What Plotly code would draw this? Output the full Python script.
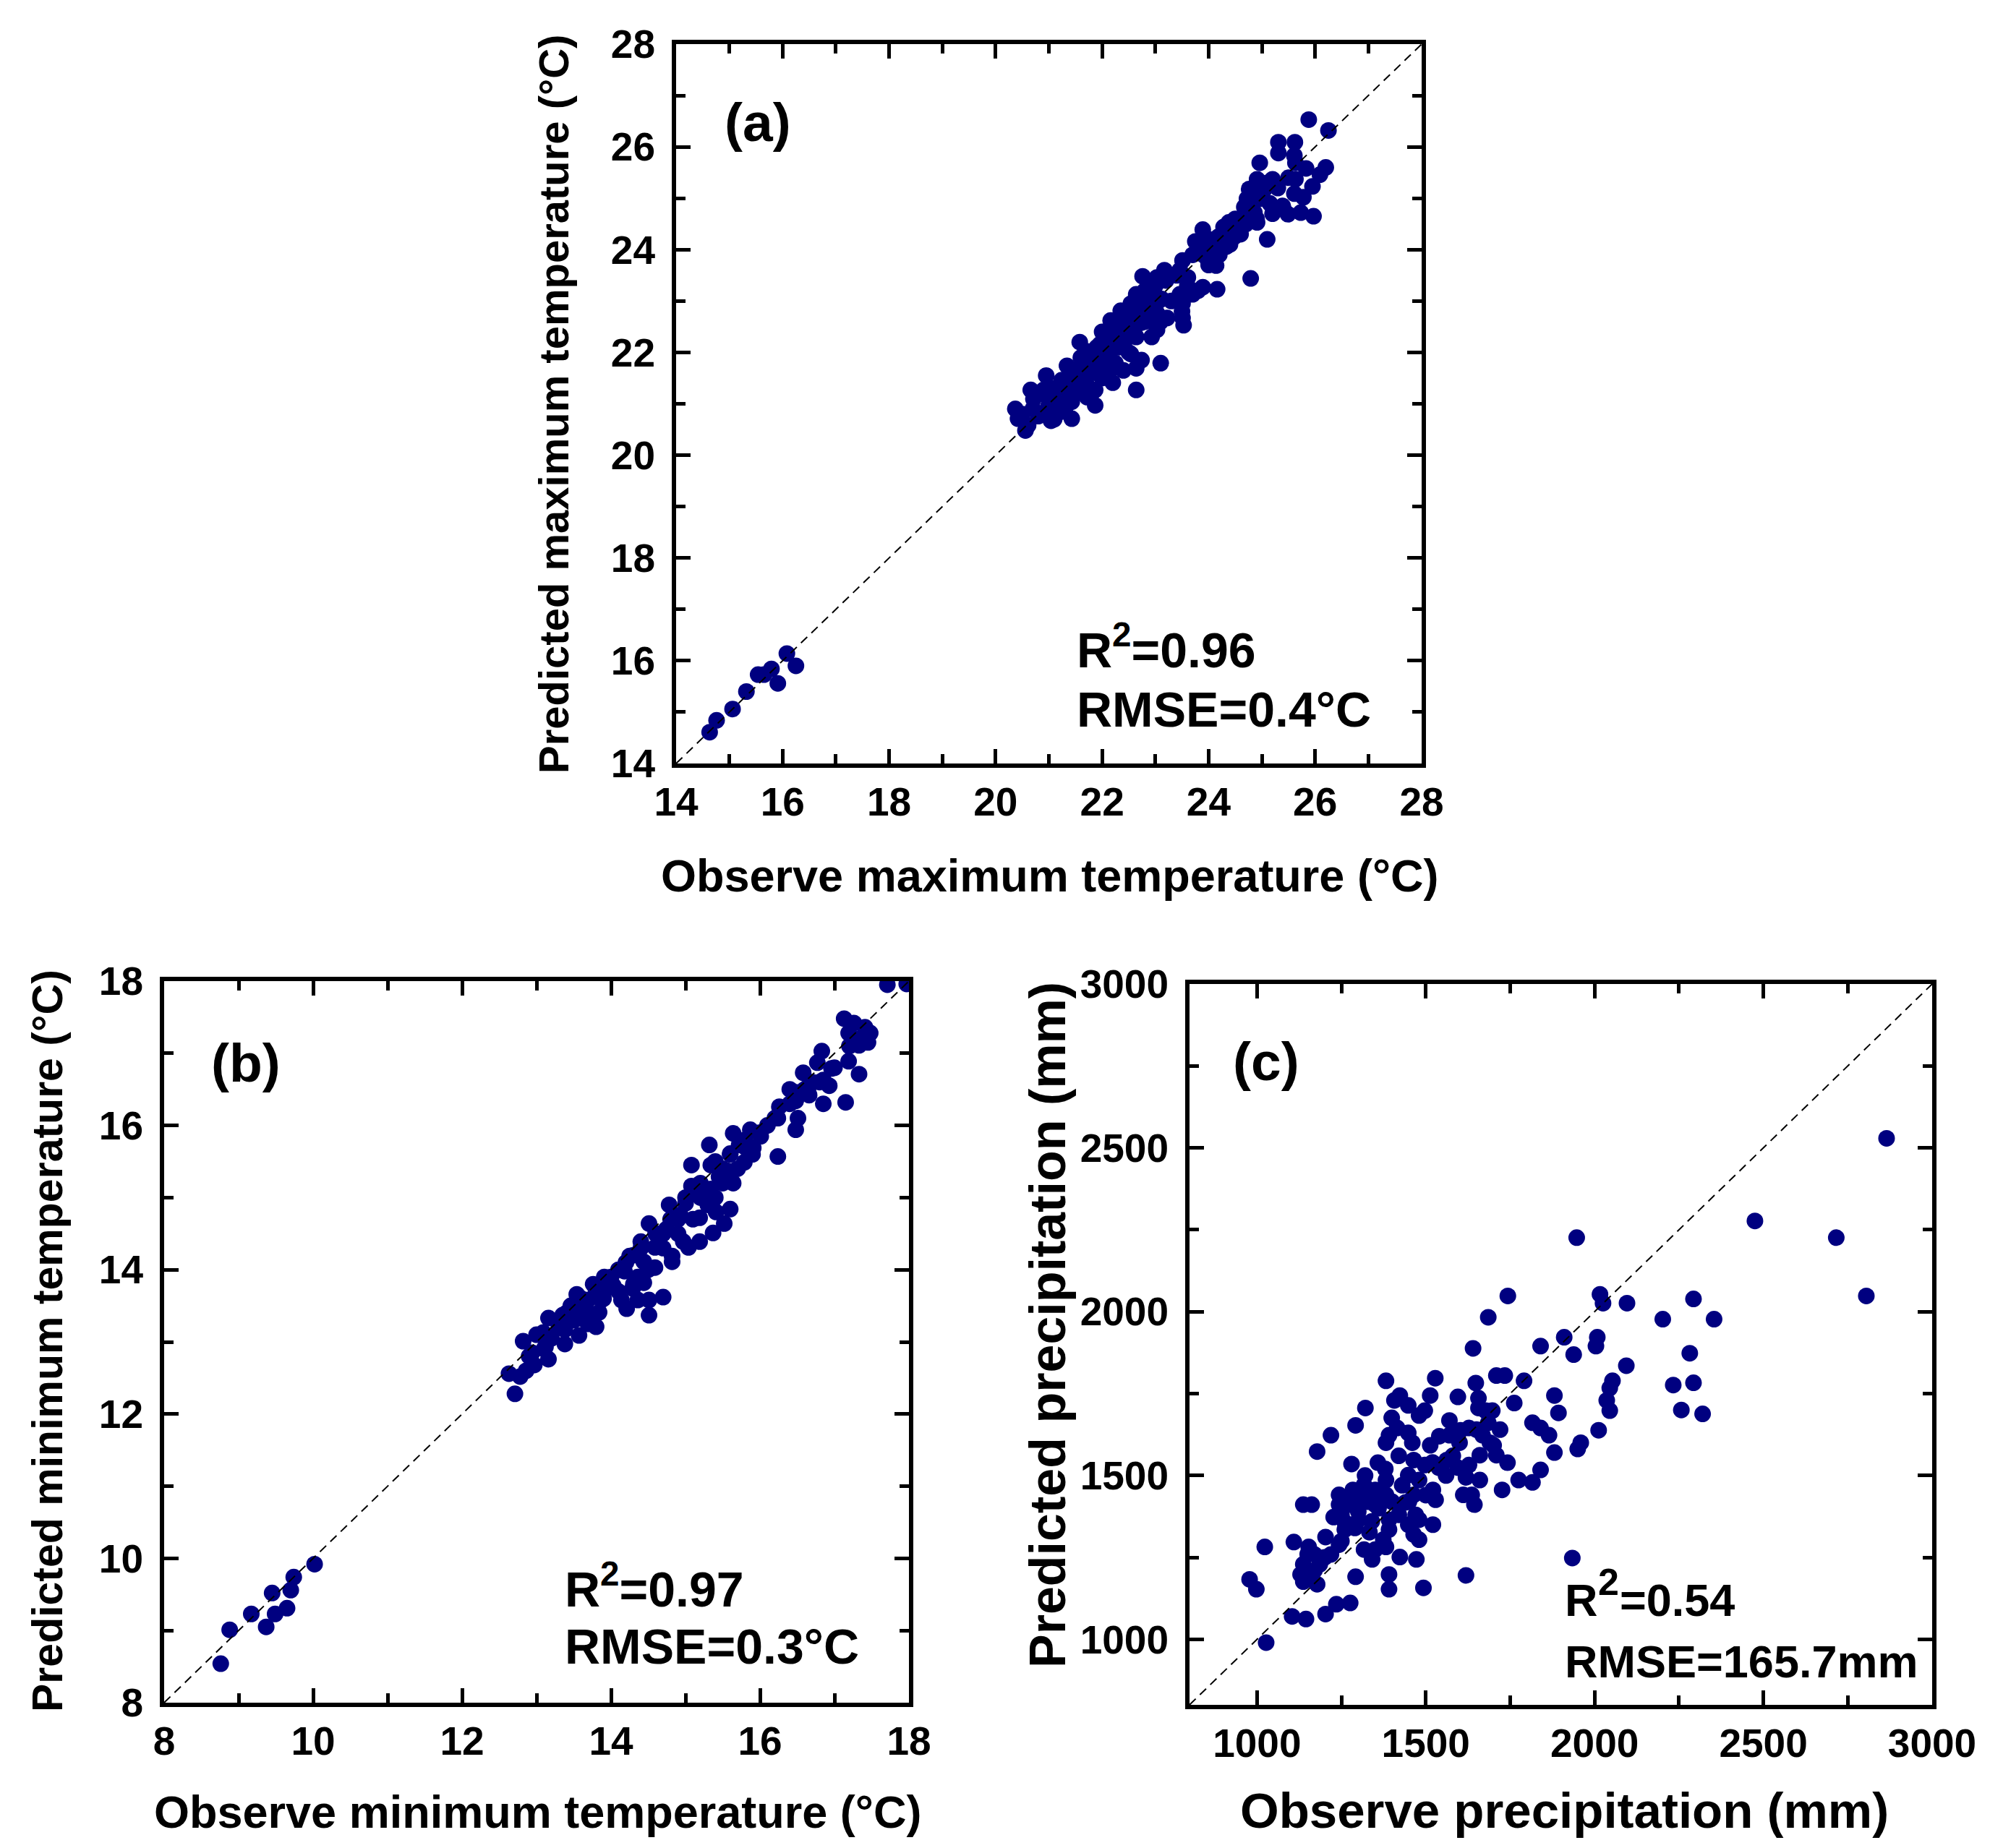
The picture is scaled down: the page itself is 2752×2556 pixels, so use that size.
import plotly.graph_objects as go

# (a) maximum temperature, observed vs predicted (deg C)
maxt_obs = [14.63, 14.76, 15.06, 15.32, 15.54, 15.65, 15.79, 15.91, 16.08, 16.25,
            25.88, 26.25, 25.31, 25.62, 25.31, 25.61, 24.96, 25.63, 25.83, 26.20,
            26.09, 24.91, 25.20, 25.63, 25.95, 24.76, 25.05, 25.61, 25.78, 24.72,
            24.96, 24.67, 25.15, 25.39, 25.49, 25.73, 25.97, 24.86, 24.72, 24.38,
            24.28, 23.89, 24.91, 24.57, 24.48, 25.10, 23.75, 24.18, 24.33, 23.89,
            24.09, 23.99, 24.14, 23.80, 23.51, 24.79, 23.46, 23.17, 22.76, 23.03,
            23.61, 23.89, 24.16, 22.93, 22.64, 23.46, 23.70, 23.12, 22.54, 22.83,
            23.51, 22.35, 23.03, 23.22, 23.51, 22.64, 22.16, 22.45, 22.74, 23.03,
            23.53, 22.11, 22.93, 22.64, 22.35, 21.58, 21.96, 22.25, 22.54, 22.74,
            23.10, 21.72, 22.06, 21.87, 22.25, 21.34, 21.58, 22.40, 22.64, 21.77,
            22.06, 20.95, 21.24, 21.53, 22.20, 22.64, 20.66, 20.90, 21.87, 21.38,
            21.72, 21.09, 20.71, 21.87, 21.43, 20.99, 20.37, 21.24, 21.43, 20.80,
            20.42, 20.61, 21.04, 20.56,
            21.20, 21.50, 21.70, 21.90, 22.00, 22.10, 22.20, 22.30, 22.40, 22.50,
            22.60, 22.70, 22.80, 22.90, 23.00, 21.10, 21.30, 21.60, 21.80, 22.00,
            22.20, 22.50, 23.30, 23.60, 24.00, 24.30, 24.50, 24.80, 25.10, 25.40,
            24.60, 23.90,
            20.50, 20.70, 20.80, 21.00, 21.10, 21.30, 21.40, 21.50, 21.60, 21.70,
            21.80, 21.90, 22.00, 22.10, 22.20, 22.30, 22.40, 22.50, 22.60, 22.70,
            22.80, 22.90, 23.00, 23.10, 23.20, 23.40, 23.50, 23.70, 23.80, 24.00,
            24.10, 24.20, 24.40, 24.50, 24.70, 24.90, 25.00, 25.20, 25.30, 25.50]
maxt_pred = [14.61, 14.84, 15.06, 15.40, 15.73, 15.73, 15.84, 15.56, 16.14, 15.90,
             26.53, 26.32, 26.09, 26.09, 25.88, 25.83, 25.69, 25.69, 25.58, 25.60,
             25.46, 25.37, 25.37, 25.37, 25.23, 25.18, 25.18, 25.09, 25.02, 24.99,
             24.99, 24.83, 24.90, 24.85, 24.69, 24.72, 24.65, 24.72, 24.62, 24.53,
             24.44, 24.39, 24.53, 24.39, 24.25, 24.20, 24.16, 24.25, 24.06, 24.06,
             23.92, 23.79, 23.69, 23.97, 23.79, 23.44, 23.60, 23.60, 23.48, 23.46,
             23.46, 23.27, 23.23, 23.27, 23.13, 23.13, 23.13, 23.04, 22.95, 22.95,
             22.95, 22.81, 22.76, 22.67, 22.67, 22.72, 22.62, 22.53, 22.58, 22.44,
             22.53, 22.39, 22.30, 22.30, 22.25, 22.20, 22.16, 22.11, 21.97, 21.85,
             21.79, 22.02, 21.97, 21.83, 21.79, 21.74, 21.69, 21.65, 21.69, 21.60,
             21.55, 21.55, 21.46, 21.41, 21.41, 21.27, 21.27, 21.27, 21.27, 21.18,
             21.13, 21.09, 21.09, 20.97, 21.04, 20.95, 20.90, 20.85, 20.71, 20.76,
             20.71, 20.58, 20.67, 20.48,
             21.00, 21.50, 21.40, 21.60, 22.00, 21.80, 22.30, 22.50, 22.20, 22.70,
             22.40, 22.90, 22.60, 23.00, 22.90, 21.30, 20.90, 21.90, 21.20, 21.50,
             21.70, 22.00, 23.00, 23.30, 24.20, 24.40, 24.60, 24.90, 25.30, 24.80,
             24.30, 23.90,
             20.80, 20.90, 21.20, 21.10, 20.70, 21.30, 21.60, 21.20, 21.70, 22.00,
             21.80, 22.10, 22.40, 22.00, 22.60, 22.10, 22.80, 22.30, 22.90, 22.60,
             23.20, 22.80, 23.30, 22.60, 23.40, 23.50, 22.80, 23.90, 23.20, 23.70,
             24.00, 23.90, 24.10, 24.30, 24.50, 24.60, 25.00, 24.70, 25.20, 25.40]

# (b) minimum temperature, observed vs predicted (deg C)
mint_obs = [8.76, 8.88, 9.17, 9.37, 9.45, 9.49, 9.65, 9.70, 9.74, 10.02,
            17.71, 17.97, 17.13, 17.26, 17.41, 17.19, 17.39, 17.33, 17.45, 16.83,
            16.77, 17.19, 17.33, 16.96, 16.58, 16.85, 16.66, 16.93, 16.48, 16.66,
            16.85, 17.15, 16.26, 16.48, 16.24, 16.51, 16.48, 15.64, 15.87, 16.01,
            16.24, 15.32, 15.72, 15.91, 15.60, 15.79, 15.08, 15.34, 15.57, 15.45,
            15.64, 15.08, 15.19, 15.34, 14.78, 15.00, 15.60, 15.41, 15.19, 14.51,
            14.93, 14.74, 15.52, 15.37, 14.97, 15.19, 14.40, 14.59, 15.04, 14.82,
            14.25, 14.44, 14.82, 14.18, 14.36, 14.59, 13.91, 13.76, 14.03, 14.29,
            14.44, 13.54, 13.69, 13.87, 14.14, 14.70, 14.51, 14.36, 13.46, 13.84,
            14.21, 14.51, 13.35, 13.57, 13.69, 13.16, 13.80, 13.38, 13.09, 13.57,
            13.20, 13.38, 12.82, 13.12, 12.94, 13.16, 12.97, 12.63, 12.78, 12.71,
            12.86, 17.48,
            14.10, 14.30, 14.60, 14.90, 15.20, 15.50, 15.80, 16.10, 13.90, 14.00,
            14.70, 15.40, 16.40, 16.70, 13.60, 13.30,
            12.90, 13.00, 13.10, 13.30, 13.40, 13.50, 13.60, 13.70, 13.80, 13.90,
            14.00, 14.10, 14.20, 14.30, 14.40, 14.50, 14.60, 14.70, 14.80, 14.90,
            15.00, 15.10, 15.20, 15.30, 15.40, 15.50, 15.60, 15.70, 15.80, 15.90,
            16.00, 16.20, 16.40, 16.60, 16.80, 17.00, 17.20, 17.30]
mint_pred = [8.54, 9.01, 9.23, 9.05, 9.52, 9.23, 9.31, 9.56, 9.74, 9.92,
             17.95, 17.96, 17.48, 17.42, 17.36, 17.28, 17.22, 17.11, 17.15, 17.03,
             16.87, 16.89, 16.71, 16.79, 16.73, 16.63, 16.55, 16.55, 16.46, 16.42,
             16.30, 16.32, 16.26, 16.34, 16.10, 16.10, 15.94, 15.89, 15.94, 15.85,
             15.57, 15.73, 15.73, 15.69, 15.61, 15.49, 15.45, 15.45, 15.37, 15.29,
             15.20, 15.16, 15.08, 15.12, 14.90, 14.92, 14.84, 14.80, 14.72, 14.64,
             14.76, 14.56, 14.64, 14.51, 14.39, 14.39, 14.39, 14.31, 14.31, 14.19,
             14.19, 14.11, 14.11, 13.98, 13.90, 14.03, 13.90, 13.80, 13.78, 13.74,
             13.82, 13.66, 13.58, 13.58, 13.58, 13.62, 13.58, 13.58, 13.50, 13.41,
             13.46, 13.37, 13.37, 13.33, 13.25, 13.33, 13.21, 13.17, 13.13, 13.09,
             13.05, 12.97, 13.01, 12.93, 12.85, 12.76, 12.68, 12.56, 12.52, 12.28,
             12.60, 17.28,
             14.00, 14.20, 14.50, 14.70, 15.00, 15.40, 15.70, 16.00, 13.70, 13.80,
             14.50, 15.00, 16.50, 16.60, 13.50, 13.20,
             12.80, 13.10, 12.90, 13.20, 13.40, 13.30, 13.60, 13.40, 13.70, 13.60,
             13.90, 13.70, 14.10, 13.80, 14.30, 14.00, 14.50, 14.30, 14.70, 14.50,
             15.00, 14.70, 15.20, 14.90, 15.50, 15.20, 15.60, 15.40, 15.80, 15.60,
             15.90, 16.10, 16.30, 16.50, 16.60, 16.80, 17.10, 17.20]

# (c) precipitation, observed vs predicted (mm)
prec_obs = [2865, 2475, 2716, 2805, 1947, 1743, 2016, 2025, 2096, 2202,
            2293, 2354, 2282, 2293, 2233, 2257, 2320,
            1685, 1640, 1840, 1910, 2008, 2004, 1938, 2094, 2053, 2045,
            2036, 2045, 2012, 1959, 1950, 1881, 1893, 1816, 1840, 1865,
            1881, 1840, 1816, 1775, 1726, 1762, 1791, 1709, 1734, 1648,
            1656, 1656, 1697, 1595, 1528, 1513, 1497, 1480, 1448, 1423,
            1407, 1382, 1321, 1292, 1219, 1178, 1280, 1358, 1399, 1415,
            1391, 1382, 1448, 1513, 1570, 1570, 1603, 1628, 1677, 1685,
            1668, 1701, 1709, 1742, 1660, 1628, 1595, 1562, 1538, 1497,
            1464, 1448, 1480, 1521, 1464, 1529, 1440, 1619, 1660, 1636,
            1611, 1644, 1137, 1162, 1243, 1284, 1317, 1350, 1382, 1382,
            1243, 1276, 1309, 1350, 1227, 1260, 1301, 1391, 1391, 1448,
            1480, 1521, 1464, 1480, 1260, 1333, 1374, 1203, 1243, 1317,
            1350, 1382, 1109, 1153, 1023, 1170, 1219, 1341, 1423, 1472,
            1137, 1186, 1129, 1162, 1137, 1178, 1292, 1391, 1391, 1493,
            1619, 1934, 978, 998, 1104, 1145, 1203, 1235, 1276, 1027,
            1250, 1270, 1300, 1310, 1330, 1360, 1340, 1290, 1400, 1420,
            1450, 1470, 1500, 1430, 1380, 1420, 1460, 1540, 1580, 1600,
            1650, 1690, 1720, 1560, 1520, 1250, 1200, 1170, 1150, 1320]
prec_pred = [2529, 2277, 2226, 2048, 2226, 2048, 2053, 2026, 2026, 1977,
             2039, 1977, 1873, 1783, 1776, 1700, 1688,
             1983, 1888, 1895, 1922, 1922, 1895, 1869, 1835, 1789, 1767,
             1729, 1698, 1638, 1600, 1581, 1744, 1691, 1661, 1645, 1623,
             1570, 1517, 1479, 1486, 1456, 1721, 1789, 1805, 1805, 1782,
             1736, 1706, 1698, 1740, 1797, 1744, 1698, 1683, 1714, 1744,
             1729, 1789, 1706, 1653, 1623, 1573, 1535, 1539, 1676, 1645,
             1623, 1600, 1630, 1592, 1668, 1623, 1638, 1645, 1698, 1661,
             1623, 1592, 1562, 1539, 1562, 1532, 1524, 1547, 1524, 1532,
             1547, 1501, 1486, 1456, 1441, 1426, 1418, 1494, 1486, 1441,
             1441, 1411, 1411, 1411, 1441, 1456, 1471, 1456, 1486, 1441,
             1411, 1411, 1426, 1411, 1373, 1357, 1365, 1365, 1335, 1350,
             1365, 1350, 1320, 1304, 1335, 1327, 1304, 1312, 1289, 1274,
             1274, 1282, 1297, 1282, 1282, 1259, 1259, 1244, 1251, 1244,
             1229, 1229, 1198, 1183, 1176, 1168, 1191, 1198, 1153, 1157,
             1195, 1248, 1183, 1153, 1070, 1062, 1077, 1107, 1111, 990,
             1380, 1420, 1390, 1450, 1420, 1400, 1360, 1340, 1420, 1380,
             1420, 1380, 1440, 1470, 1520, 1560, 1600, 1620, 1560, 1600,
             1640, 1600, 1640, 1500, 1540, 1300, 1250, 1210, 1260, 1500]

FONT = "Liberation Sans, Arial, sans-serif"
NAVY = "#000080"
W, H = 2752, 2556

fig = go.Figure()

panels = [
    dict(obs=maxt_obs, pred=maxt_pred, rng=[14, 28], dtick=2, minor=1,
         px=(927, 1958), py=(53, 1048), n=""),
    dict(obs=mint_obs, pred=mint_pred, rng=[8, 18], dtick=2, minor=1,
         px=(219, 1249), py=(1349, 2347), n="2"),
    dict(obs=prec_obs, pred=prec_pred, rng=[800, 3000], dtick=500, minor=250,
         px=(1637, 2664), py=(1353, 2350), n="3"),
]

for p in panels:
    xa, ya = "x" + p["n"], "y" + p["n"]
    fig.add_trace(go.Scatter(x=p["obs"], y=p["pred"], mode="markers", xaxis=xa, yaxis=ya,
                             marker=dict(color=NAVY, size=23, line=dict(width=0)),
                             showlegend=False))
    # 1:1 line
    fig.add_trace(go.Scatter(x=p["rng"], y=p["rng"], mode="lines", xaxis=xa, yaxis=ya,
                             line=dict(color="black", width=2, dash="12px,8px"),
                             showlegend=False))
    common = dict(range=p["rng"], dtick=p["dtick"], showline=True, linewidth=6,
                  linecolor="black", mirror="allticks", ticks="inside", ticklen=20,
                  tickwidth=5, tickcolor="black", showgrid=False, zeroline=False,
                  automargin=False,
                  minor=dict(dtick=p["minor"], ticks="inside", ticklen=13, tickwidth=5,
                             tickcolor="black"),
                  tickfont=dict(family=FONT, size=55, color="black", weight="bold"))
    fig.layout["xaxis" + p["n"]] = dict(common, domain=[p["px"][0] / W, p["px"][1] / W],
                                        anchor=ya, ticklabelstandoff=0)
    fig.layout["yaxis" + p["n"]] = dict(common, domain=[1 - p["py"][1] / H, 1 - p["py"][0] / H],
                                        anchor=xa, ticklabelstandoff=12)


def label(text, x, y, size, xanchor="left", angle=0):
    fig.add_annotation(text=text, x=x / W, y=1 - y / H, xref="paper", yref="paper",
                       xanchor=xanchor, yanchor="middle", showarrow=False, textangle=angle,
                       font=dict(family=FONT, size=size, color="black", weight="bold"))


# axis titles
label("Observe maximum temperature (°C)", 1444, 1203, 63, "center")
label("Predicted maximum temperature (°C)", 758, 551, 58, "center", -90)
label("Observe minimum temperature (°C)", 735, 2498, 63, "center")
label("Predicted minimum temperature (°C)", 58, 1847, 59, "center", -90)
label("Observe precipitation (mm)", 2155, 2496, 69, "center")
label("Predicted precipitation (mm)", 1441, 1825, 70, "center", -90)

# panel tags and statistics
label("(a)", 992, 161, 75)
label("R<sup>2</sup>=0.96", 1479, 886, 68)
label("RMSE=0.4°C", 1479, 973, 68)
label("(b)", 282, 1462, 75)
label("R<sup>2</sup>=0.97", 771, 2185, 68)
label("RMSE=0.3°C", 771, 2269, 68)
label("(c)", 1695, 1460, 75)
# panel (c) uses a larger superscript, so it is set as three pieces
label("R", 2154, 2205, 63)
label("2", 2200, 2180, 52)
label("=0.54", 2230, 2205, 63)
label("RMSE=165.7mm", 2154, 2290, 63)

fig.update_layout(width=W, height=H, margin=dict(l=0, r=0, t=0, b=0),
                  paper_bgcolor="white", plot_bgcolor="white")

fig.write_html("out.html")
